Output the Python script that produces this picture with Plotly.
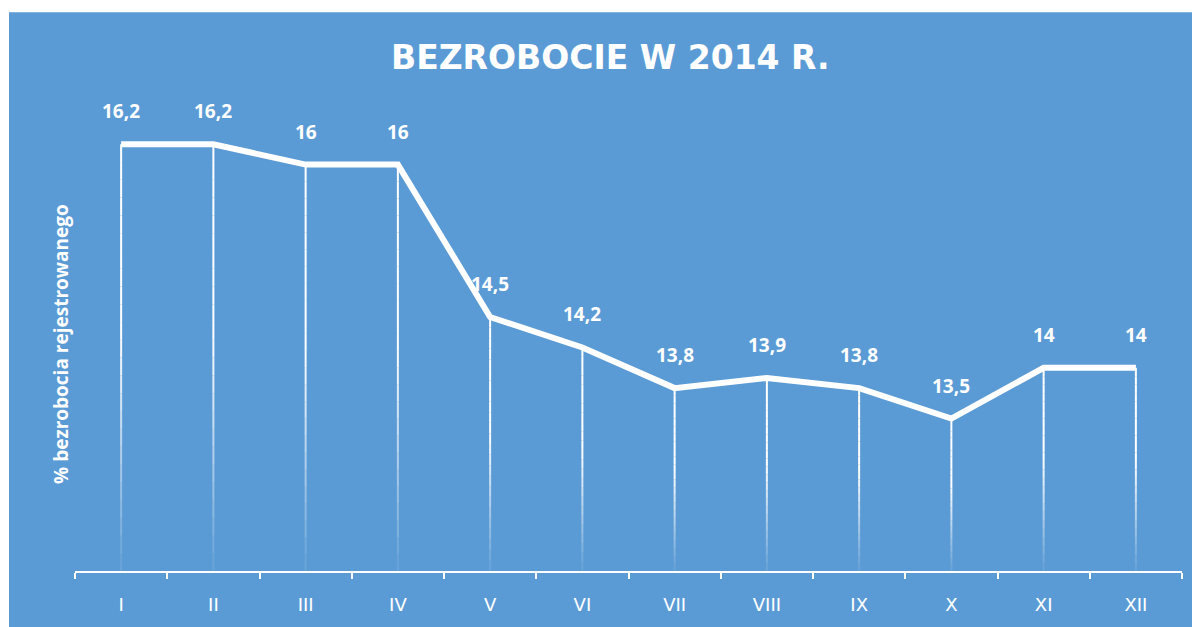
import plotly.graph_objects as go

months = ["I", "II", "III", "IV", "V", "VI", "VII", "VIII", "IX", "X", "XI", "XII"]
values = [16.2, 16.2, 16.0, 16.0, 14.5, 14.2, 13.8, 13.9, 13.8, 13.5, 14.0, 14.0]
labels = ["16,2", "16,2", "16", "16", "14,5", "14,2", "13,8", "13,9", "13,8", "13,5", "14", "14"]
title_text = "BEZROBOCIE W 2014 R."
y_title = "% bezrobocia rejestrowanego"

BLUE = "#5B9BD5"
OFF = 8  # page body margin
W, H = 1200 - OFF, 627 - OFF
ML, MR, MT, MB = 75 - OFF, 18, 63 - OFF, 54
Y_MIN, Y_MAX = 12, 17
PW, PH = W - ML - MR, H - MT - MB


def px_to_paper(sx, sy):
    fx, fy = sx - OFF, sy - OFF
    return (fx - ML) / PW, (H - MB - fy) / PH


fig = go.Figure()

# gradient drop lines: segments with fading opacity towards the baseline
N = 24
for k in range(N):
    f0, f1 = k / N, (k + 1) / N
    mid = (f0 + f1) / 2
    if mid < 0.45:
        op = 1.0
    else:
        op = max(0.05, 1.0 - (mid - 0.45) / 0.55 * 0.95)
    xs, ys = [], []
    for m, v in zip(months, values):
        top = v - (v - Y_MIN) * f0
        bot = v - (v - Y_MIN) * f1
        xs += [m, m, None]
        ys += [top, bot, None]
    fig.add_trace(go.Scatter(x=xs, y=ys, mode="lines",
                             line=dict(color=f"rgba(255,255,255,{op:.3f})", width=2),
                             hoverinfo="skip", showlegend=False))

fig.add_trace(go.Scatter(x=months, y=values, mode="lines",
                         line=dict(color="white", width=6), showlegend=False))

annotations = []
for m, v, t in zip(months, values, labels):
    annotations.append(dict(x=m, y=v, xref="x", yref="y", text=t, showarrow=False,
                            yshift=33, xanchor="center", yanchor="middle",
                            font=dict(family="Open Sans", size=19, color="white",
                                      weight="bold")))
ax, ay = px_to_paper(61, 345)
annotations.append(dict(x=ax, y=ay, xref="paper", yref="paper", xanchor="center",
                        yanchor="middle", text=y_title, textangle=-90, showarrow=False,
                        font=dict(family="Open Sans", size=19, color="white", weight="bold")))
tx, ty = px_to_paper(610, 57)
annotations.append(dict(x=tx, y=ty, xref="paper", yref="paper", xanchor="center",
                        yanchor="middle", text=title_text, showarrow=False,
                        font=dict(family="DejaVu Sans", size=33, color="white", weight="bold")))

bx0, by1 = px_to_paper(9, 12)
bx1, by0 = px_to_paper(1210, 640)
shapes = [dict(type="rect", xref="paper", yref="paper", layer="below",
               x0=bx0, x1=bx1, y0=by0, y1=by1,
               fillcolor=BLUE, line=dict(width=0))]

fig.update_layout(
    width=W, height=H,
    margin=dict(l=ML, r=MR, t=MT, b=MB),
    paper_bgcolor="white", plot_bgcolor=BLUE,
    annotations=annotations, shapes=shapes,
    xaxis=dict(type="category", range=[-0.5, 11.5], tickson="boundaries",
               ticks="outside", ticklen=6, tickwidth=2, tickcolor="white",
               showline=True, linecolor="white", linewidth=2, showgrid=False,
               zeroline=False, ticklabelstandoff=16,
               tickfont=dict(family="DejaVu Sans", size=18, color="white")),
    yaxis=dict(range=[Y_MIN, Y_MAX], showticklabels=False, showgrid=False,
               zeroline=False, showline=False, ticks=""),
)

fig.write_html("out.html")
